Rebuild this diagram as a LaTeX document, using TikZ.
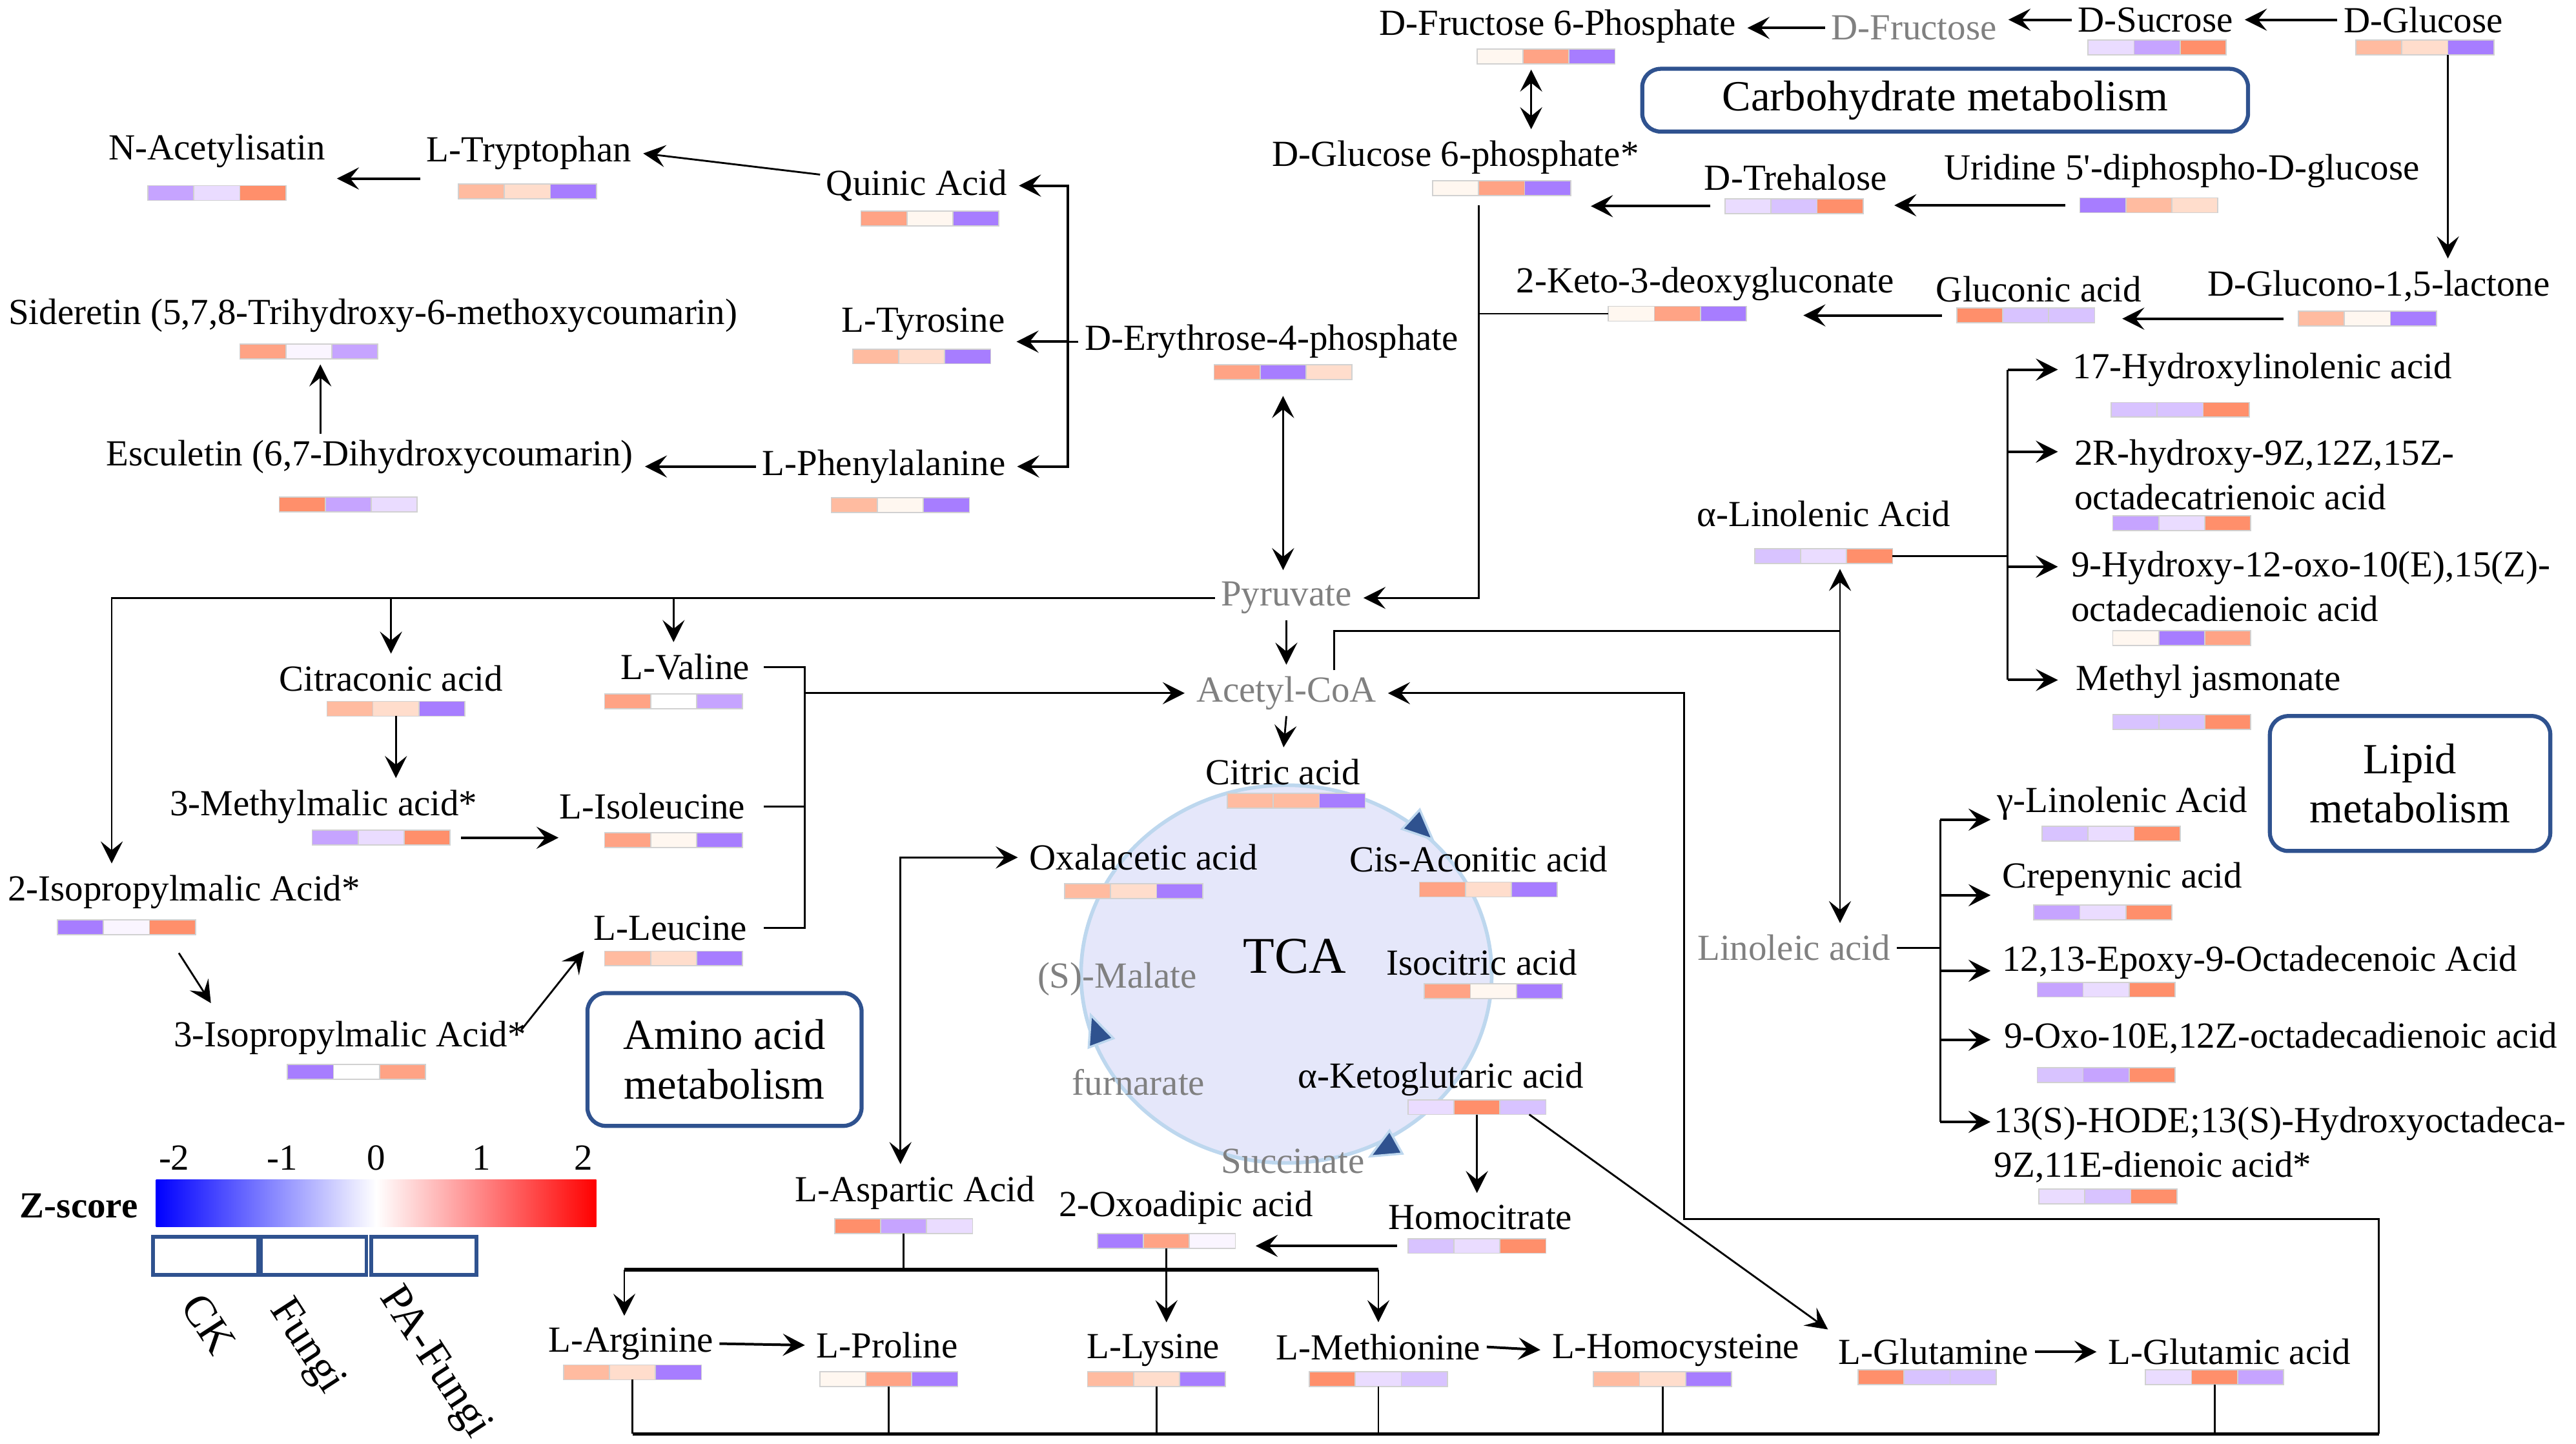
\documentclass[tikz,border=0pt]{standalone}
\usepackage{fontspec}
\setmainfont{Liberation Serif}
\usetikzlibrary{arrows.meta}

\definecolor{zR}{HTML}{FF8F6B}
\definecolor{zS}{HTML}{FFA385}
\definecolor{zO}{HTML}{FFBBA0}
\definecolor{zP}{HTML}{FFDDCC}
\definecolor{zW}{HTML}{FFF7F0}
\definecolor{zV}{HTML}{FAF5FF}
\definecolor{zL}{HTML}{EADCFF}
\definecolor{zM}{HTML}{D8C3FF}
\definecolor{zN}{HTML}{C6A4FF}
\definecolor{zB}{HTML}{A77DFF}
\definecolor{boxblue}{HTML}{2F528F}
\definecolor{tcafill}{HTML}{E5E7FA}
\definecolor{tcaline}{HTML}{BDD7EE}
\definecolor{metgrey}{HTML}{808080}

\begin{document}
\begin{tikzpicture}[x=0.0157cm, y=-0.0157cm,
    >={Stealth[length=6pt,width=6pt,inset=2.4pt]},
    metab/.style={font=\fontsize{10}{12}\selectfont, inner sep=1.5pt},
    minor/.style={metab, text=metgrey},
    group/.style={font=\fontsize{12}{14}\selectfont, inner sep=1pt, rotate=-57},
    pathbox/.style={draw=boxblue, line width=1.1pt, rounded corners=5pt, align=center, inner sep=0pt, font=\fontsize{11.7}{13.4}\selectfont},
    zcell/.style={minimum width=1.319cm, minimum height=0.141cm, inner sep=0pt, outer sep=0pt},
    cell/.style={draw=black!18, line width=0.3pt},
    arr/.style={->, line width=0.7pt, shorten >=1.5pt},
    arrt/.style={->, line width=0.5pt, shorten >=1.5pt},
    dblt/.style={<->, line width=0.5pt, shorten <=1.5pt, shorten >=1.5pt},
    wire/.style={line width=0.5pt},
    trunk/.style={line width=0.95pt},
    legbox/.style={draw=boxblue, line width=1pt},
    tcatri/.style={fill=boxblue, draw=tcaline, line width=0.6pt}]
	\useasboundingbox (0,0) rectangle (1568,879);
	\newcommand{\zbar}[5]{%
		\node[zcell] (#1) at (#2) {};
		\begin{scope}[shift={(#2)}]
			\filldraw[cell, fill=#3] (-42,-4.5) rectangle (-14,4.5);
			\filldraw[cell, fill=#4] (-14,-4.5) rectangle (14,4.5);
			\filldraw[cell, fill=#5] (14,-4.5) rectangle (42,4.5);
		\end{scope}}

	% TCA cycle
	\draw[fill=tcafill, draw=tcaline, line width=1pt] (783,593) ellipse [x radius=1.9625cm, y radius=1.8055cm];
	\filldraw[tcatri] (872,511) -- (853.4,504.7) -- (864.2,492.9) -- cycle;
	\filldraw[tcatri] (664,618) -- (677.7,632.1) -- (662.7,637.7) -- cycle;
	\filldraw[tcatri] (834,704) -- (853.6,702.3) -- (845.8,688.3) -- cycle;
	\node[font=\fontsize{14}{16}\selectfont] (tca) at (788,582) {TCA};

	% carbohydrate
	\node[metab] (fru6p) at (948,16) {D-Fructose 6-Phosphate};
	\node[minor] (fru) at (1165,17) {D-Fructose};
	\node[metab] (suc) at (1312,12) {D-Sucrose};
	\node[metab] (glc) at (1475,12) {D-Glucose};
	\node[pathbox, minimum width=5.79cm, minimum height=0.6cm] (carbo) at (1184,61) {Carbohydrate metabolism};
	\node[metab] (glc6p) at (886,96) {D-Glucose 6-phosphate*};
	\node[metab] (tre) at (1093,108) {D-Trehalose};
	\node[metab] (udpg) at (1328,104) {Uridine 5\textquotesingle-diphospho-D-glucose};
	\node[metab] (glcl) at (1448,174) {D-Glucono-1,5-lactone};
	\node[metab] (glca) at (1241,176) {Gluconic acid};
	\node[metab] (kdg) at (1038,173) {2-Keto-3-deoxygluconate};
	\node[metab] (e4p) at (774,208) {D-Erythrose-4-phosphate};

	% aromatic
	\node[metab] (qui) at (558,113) {Quinic Acid};
	\node[metab] (trp) at (322,93) {L-Tryptophan};
	\node[metab] (nac) at (132,92) {N-Acetylisatin};
	\node[metab] (tyr) at (562,197) {L-Tyrosine};
	\node[metab] (sid) at (227,192) {Sideretin (5,7,8-Trihydroxy-6-methoxycoumarin)};
	\node[metab] (esc) at (225,278) {Esculetin (6,7-Dihydroxycoumarin)};
	\node[metab] (phe) at (538,284) {L-Phenylalanine};

	% amino acids
	\node[minor] (pyr) at (783,364) {Pyruvate};
	\node[minor] (acoa) at (783,422) {Acetyl-CoA};
	\node[metab] (cit) at (238,413) {Citraconic acid};
	\node[metab] (val) at (417,406) {L-Valine};
	\node[metab] (mma) at (197,491) {3-Methylmalic acid*};
	\node[metab] (ile) at (397,491) {L-Isoleucine};
	\node[metab] (leu) at (408,565) {L-Leucine};
	\node[metab] (ipm2) at (112,543) {2-Isopropylmalic Acid*};
	\node[metab] (ipm3) at (213,632) {3-Isopropylmalic Acid*};
	\node[pathbox, minimum width=2.62cm, minimum height=1.27cm] (amino) at (441,645) {Amino acid\\metabolism};

	\node[metab] (citric) at (781,470) {Citric acid};
	\node[metab] (oaa) at (696,522) {Oxalacetic acid};
	\node[metab] (cis) at (900,523) {Cis-Aconitic acid};
	\node[metab] (iso) at (902,586) {Isocitric acid};
	\node[metab] (akg) at (877,657) {α-Ketoglutaric acid};
	\node[minor] (mal) at (680,596) {(S)-Malate};
	\node[minor] (fum) at (693,659) {furnarate};
	\node[minor] (succ) at (787,707) {Succinate};

	\node[metab] (hcit) at (901,741) {Homocitrate};
	\node[metab] (oad) at (722,735) {2-Oxoadipic acid};
	\node[metab] (asp) at (557,726) {L-Aspartic Acid};
	\node[metab] (arg) at (384,818) {L-Arginine};
	\node[metab] (pro) at (540,819) {L-Proline};
	\node[metab] (lys) at (702,822) {L-Lysine};
	\node[metab] (met) at (839,820) {L-Methionine};
	\node[metab] (hcy) at (1020,822) {L-Homocysteine};
	\node[metab] (gln) at (1177,823) {L-Glutamine};
	\node[metab] (glu) at (1357,823) {L-Glutamic acid};

	% lipids
	\node[metab] (ala) at (1110,313) {α-Linolenic Acid};
	\node[metab, anchor=west] (hla) at (1258,225) {17-Hydroxylinolenic acid};
	\node[metab, anchor=west, align=left] (hot) at (1259,289) {2R-hydroxy-9Z,12Z,15Z-\\octadecatrienoic acid};
	\node[metab, anchor=west, align=left] (hoo) at (1257,357) {9-Hydroxy-12-oxo-10(E),15(Z)-\\octadecadienoic acid};
	\node[metab, anchor=west] (mja) at (1260,415) {Methyl jasmonate};
	\node[pathbox, minimum width=2.68cm, minimum height=1.29cm] (lipid) at (1467,477) {Lipid\\metabolism};
	\node[minor] (lin) at (1092,577) {Linoleic acid};
	\node[metab, anchor=west] (gla) at (1212,489) {γ-Linolenic Acid};
	\node[metab, anchor=west] (crep) at (1215,535) {Crepenynic acid};
	\node[metab, anchor=west] (epo) at (1215,586) {12,13-Epoxy-9-Octadecenoic Acid};
	\node[metab, anchor=west] (oxo) at (1216,632) {9-Oxo-10E,12Z-octadecadienoic acid};
	\node[metab, anchor=west, align=left] (hode) at (1210,697) {13(S)-HODE;13(S)-Hydroxyoctadeca-\\9Z,11E-dienoic acid*};

	% z-score bars
	\zbar{fru6pb}{941,34.5}{zW}{zS}{zB}
	\zbar{sucb}{1313,29}{zL}{zN}{zR}
	\zbar{glcb}{1476,29}{zO}{zP}{zB}
	\zbar{glc6pb}{914,114.5}{zW}{zS}{zB}
	\zbar{treb}{1092,125.5}{zL}{zM}{zR}
	\zbar{udpgb}{1308,125}{zB}{zO}{zP}
	\zbar{glclb}{1441,194}{zO}{zW}{zB}
	\zbar{glcab}{1233,192}{zR}{zM}{zM}
	\zbar{kdgb}{1021,191}{zW}{zS}{zB}
	\zbar{e4pb}{781,226.5}{zS}{zB}{zP}
	\zbar{quib}{566,133}{zS}{zW}{zB}
	\zbar{trpb}{321,116.5}{zO}{zP}{zB}
	\zbar{nacb}{132,117.5}{zN}{zL}{zR}
	\zbar{tyrb}{561,217}{zO}{zP}{zB}
	\zbar{sidb}{188,214}{zS}{zV}{zN}
	\zbar{escb}{212,307}{zR}{zN}{zL}
	\zbar{pheb}{548,307.5}{zO}{zW}{zB}
	\zbar{citb}{241,431.5}{zO}{zP}{zB}
	\zbar{valb}{410,427}{zS}{white}{zN}
	\zbar{mmab}{232,510}{zN}{zL}{zR}
	\zbar{ileb}{410,511.5}{zS}{zW}{zB}
	\zbar{leub}{410,583.5}{zO}{zP}{zB}
	\zbar{ipm2b}{77,564.5}{zB}{zV}{zR}
	\zbar{ipm3b}{217,652.5}{zB}{white}{zS}
	\zbar{citricb}{789,487.5}{zO}{zO}{zB}
	\zbar{oaab}{690,542.5}{zO}{zP}{zB}
	\zbar{cisb}{906,541.5}{zS}{zP}{zB}
	\zbar{isob}{909,603.5}{zS}{zW}{zB}
	\zbar{akgb}{899,674}{zL}{zR}{zM}
	\zbar{hcitb}{899,758.5}{zM}{zL}{zR}
	\zbar{oadb}{710,755.5}{zB}{zS}{zV}
	\zbar{aspb}{550,746.5}{zR}{zN}{zL}
	\zbar{argb}{385,835.5}{zO}{zP}{zB}
	\zbar{prob}{541,839.5}{zW}{zS}{zB}
	\zbar{lysb}{704,839.5}{zO}{zP}{zB}
	\zbar{metb}{839,839.5}{zR}{zL}{zM}
	\zbar{hcyb}{1012,839.5}{zO}{zP}{zB}
	\zbar{glnb}{1173,838.5}{zR}{zM}{zM}
	\zbar{glub}{1348,838.5}{zL}{zR}{zN}
	\zbar{alab}{1110,338.5}{zM}{zL}{zR}
	\zbar{hlab}{1327,249.5}{zM}{zM}{zR}
	\zbar{hotb}{1328,318.5}{zN}{zL}{zR}
	\zbar{hoob}{1328,388.5}{zW}{zB}{zS}
	\zbar{mjab}{1328,439.5}{zM}{zM}{zR}
	\zbar{glab}{1285,507.5}{zM}{zL}{zR}
	\zbar{crepb}{1280,555.5}{zN}{zL}{zR}
	\zbar{epob}{1282,602.5}{zN}{zL}{zR}
	\zbar{oxob}{1282,654.5}{zM}{zN}{zR}
	\zbar{hodeb}{1283,728.5}{zL}{zM}{zR}

	% carbohydrate links
	\draw[arr] (glc.west) -- (glc.west -| suc.east);
	\draw[arr] (suc.west) -- (suc.west -| fru.east);
	\draw[arr] (fru.west) -- (fru.west -| fru6p.east);
	\draw[dblt] (fru6pb.south -| 932,0) -- (glc6p.north -| 932,0);
	\draw[arr] ([xshift=-4pt]udpgb.west) -- ([xshift=7pt]udpgb.west -| treb.east);
	\draw[arr] ([xshift=-4pt]treb.west) -- ([xshift=4pt]treb.west -| glc6pb.east);
	\draw[arrt] (glcb.south -| 1490,0) -- (glcl.north -| 1490,0);
	\draw[arr] ([xshift=-4pt]glclb.west) -- ([xshift=6pt]glclb.west -| glcab.east);
	\draw[arr] ([xshift=-4pt]glcab.west) -- ([xshift=14pt]glcab.west -| kdgb.east);
	\coordinate (pj) at (900,125);
	\draw[arrt] (pj) |- (pyr.east);
	\draw[wire] (kdgb.west) -- (kdgb.west -| pj);
	\draw[dblt] ([yshift=-3pt]e4pb.south) -- (e4pb.south |- pyr.north);

	% aromatic links
	\coordinate (eb) at (650,208);
	\draw[wire] (e4p.west) -- (eb);
	\draw[arr] (eb) |- (qui.east);
	\draw[arr] (eb) -- (eb -| tyr.east);
	\draw[arr] (eb) |- (phe.east);
	\draw[arrt] ([yshift=3pt]qui.west) -- (trp.east);
	\draw[arr] ([yshift=-7pt]trp.west) -- ([yshift=-7pt]trp.west -| nac.east);
	\draw[arrt] (esc.north -| 195,0) -- (sidb.south -| 195,0);
	\draw[arr] (phe.west) -- (phe.west -| esc.east);

	% amino acid links
	\coordinate (pl) at (68,364);
	\draw[arrt] (pyr.west) -- (pl) -- (pl |- ipm2.north);
	\draw[arrt] (cit.north |- pl) -- (cit.north);
	\draw[arrt] (pl -| valb.north) -- (val.north -| valb.north);
	\draw[arrt] (pyr.south) -- (acoa.north);
	\draw[arrt] (citb.south) -- (citb.south |- mma.north);
	\draw[arr] ([xshift=3pt]mmab.east) -- ([xshift=3pt]mmab.east -| ile.west);
	\coordinate (bb) at (490,422);
	\draw[wire] (val.east -| 465,0) -| (bb |- leu.east) -- (leu.east -| 465,0);
	\draw[wire] (ile.east -| 465,0) -- (ile.east -| bb);
	\draw[arrt] (bb) -- (acoa.west);
	\draw[arrt] ([xshift=0.5cm,yshift=-5pt]ipm2b.south) -- ([xshift=-1.3cm,yshift=2pt]ipm3.north);
	\draw[arrt] ([xshift=-3pt,yshift=-4pt]ipm3.north east) -- (leu.south west);

	% TCA links
	\draw[arrt] (acoa.south) -- (citric.north);
	\draw[dblt] (oaa.west) -| ([xshift=-0.14cm]asp.north);
	\draw[arrt] (akgb.south) -- (akgb.south |- hcit.north);
	\draw[arrt] ([xshift=0.5cm]akgb.south) -- (gln.north west);
	\draw[arr] ([xshift=-3pt]hcitb.west) -- ([xshift=4pt]hcitb.west -| oadb.east);
	\coordinate (ab) at (380,773);
	\coordinate (ae) at (839,773);
	\draw[wire] (aspb.south) -- (aspb.south |- ab);
	\draw[trunk] (ab) -- (ae);
	\draw[arrt] (ab) -- (ab |- arg.north);
	\draw[arrt] (ae) -- (ae |- met.north);
	\draw[arrt] (oadb.south) -- (oadb.south |- lys.north);
	\draw[arr] (arg.east) -- (pro.west);
	\draw[arr] (met.east) -- (hcy.west);
	\draw[arr] (gln.east) -- (glu.west);
	\coordinate (bl) at (385,873);
	\coordinate (brr) at (1448,873);
	\coordinate (lp) at (1025,742);
	\draw[trunk] (bl) -- (brr);
	\foreach \b in {argb,prob,lysb,metb,hcyb,glub}
		\draw[wire] (\b.south) -- (\b.south |- bl);
	\draw[arrt] (brr) |- (lp) |- (acoa.east);

	% lipid links
	\coordinate (lx) at (1120,384);
	\draw[wire] (acoa.north -| 812,0) |- (lx);
	\draw[dblt] (alab.south -| lx) -- (lin.north -| lx);
	\coordinate (lb) at (1222,338.5);
	\draw[wire] (alab.east) -- (lb);
	\draw[wire] (1222,225) -- (1222,414);
	\foreach \y in {225,275,345,414}
		\draw[arr] (1222,\y) -- (1256,\y);
	\coordinate (nb) at (1181,577);
	\draw[wire] (lin.east) -- (nb);
	\draw[wire] (1181,499) -- (1181,683);
	\foreach \y in {499,545,591,633,683}
		\draw[arr] (1181,\y) -- (1215,\y);

	% legend
	\node[metab, font=\bfseries\fontsize{10}{12}\selectfont] (zs) at (48,734) {Z-score};
	\shade[left color=blue, right color=red, middle color=white] (95,718) rectangle (363,747);
	\foreach \v/\x in {-2/106,-1/172,0/229,1/293,2/355}
		\node[metab] (tick\x) at (\x,705) {\v};
	\foreach \a/\b in {93/157,159/223,226/290}
		\draw[legbox] (\a,753) rectangle (\b,776);
	\node[group] (lgck) at (127,806) {CK};
	\node[group] (lgfu) at (186,820) {Fungi};
	\node[group] (lgpa) at (264,830) {PA-Fungi};
\end{tikzpicture}
\end{document}
